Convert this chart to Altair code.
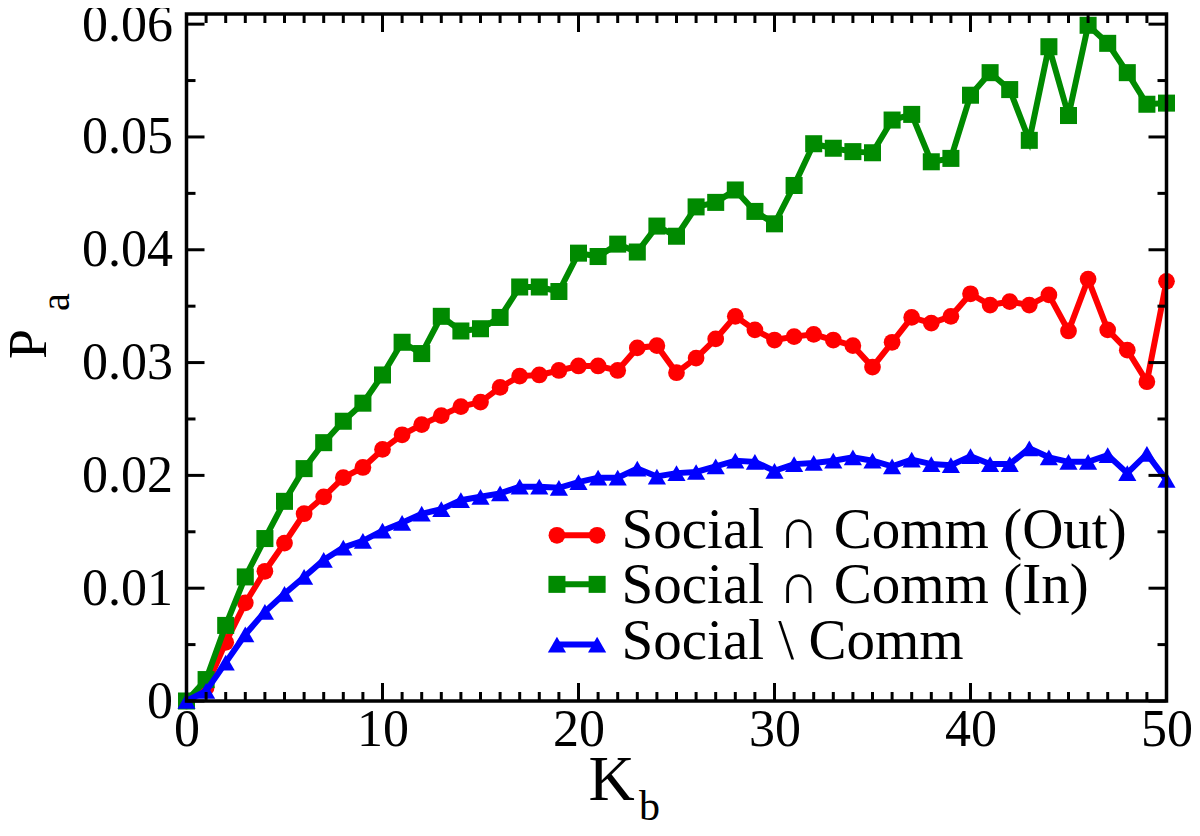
import altair as alt
import pandas as pd

K = list(range(51))

OUT_VALS = [0.0, 0.0012, 0.0052, 0.0087, 0.0115, 0.0140, 0.0166, 0.0181, 0.0198, 0.0207,
            0.0223, 0.0236, 0.0245, 0.0253, 0.0261, 0.0265, 0.0278, 0.0288, 0.0289, 0.0293,
            0.0297, 0.0297, 0.0293, 0.0313, 0.0315, 0.0291, 0.0304, 0.0321, 0.0341, 0.0329,
            0.0320, 0.0323, 0.0325, 0.0320, 0.0315, 0.0296, 0.0318, 0.0340, 0.0335, 0.0341,
            0.0361, 0.0351, 0.0354, 0.0351, 0.0360, 0.0328, 0.0374, 0.0329, 0.0311, 0.0283,
            0.0372]

IN_VALS = [0.0, 0.0019, 0.0067, 0.0110, 0.0144, 0.0177, 0.0206, 0.0229, 0.0248, 0.0264,
           0.0289, 0.0318, 0.0308, 0.0341, 0.0328, 0.0330, 0.0340, 0.0367, 0.0367, 0.0363,
           0.0397, 0.0394, 0.0405, 0.0398, 0.0421, 0.0412, 0.0438, 0.0442, 0.0453, 0.0434,
           0.0423, 0.0457, 0.0494, 0.0490, 0.0487, 0.0486, 0.0515, 0.0520, 0.0478, 0.0481,
           0.0537, 0.0557, 0.0542, 0.0497, 0.0580, 0.0519, 0.0599, 0.0583, 0.0557, 0.0529,
           0.0530]

DIFF_VALS = [0.0, 0.0009, 0.0034, 0.0059, 0.0079, 0.0095, 0.0110, 0.0125, 0.0136, 0.0142,
             0.0151, 0.0158, 0.0166, 0.0170, 0.0178, 0.0181, 0.0184, 0.0190, 0.0190, 0.0189,
             0.0194, 0.0198, 0.0198, 0.0206, 0.0199, 0.0202, 0.0203, 0.0208, 0.0213, 0.0212,
             0.0204, 0.0210, 0.0211, 0.0213, 0.0216, 0.0213, 0.0208, 0.0214, 0.0210, 0.0209,
             0.0217, 0.0210, 0.0210, 0.0224, 0.0216, 0.0212, 0.0212, 0.0218, 0.0202, 0.0219,
             0.0196]

SERIES = ["Social \u2229 Comm (Out)", "Social \u2229 Comm (In)", "Social \\ Comm"]
COLORS = ["#ff0000", "#008a00", "#0000ff"]
SHAPES = ["circle", "square", "triangle-up"]
SIZES = [280, 290, 330]

X_TICKS = [0, 10, 20, 30, 40, 50]
Y_TICKS = [0.0, 0.01, 0.02, 0.03, 0.04, 0.05, 0.06]

W, H = 980, 687
FONT = "'Liberation Serif', 'Times New Roman', 'DejaVu Serif', serif"
LW = 6

xs = alt.Scale(domain=[0, 50], nice=False, zero=False)
ys = alt.Scale(domain=[0, 0.0609], nice=False, zero=False)

xaxis = alt.Axis(values=X_TICKS, format="d", labelFont=FONT, labelFontSize=52,
                 labelColor="black", ticks=False, domain=False, grid=False,
                 labelFlush=False, labelPadding=3, title=None)
yaxis = alt.Axis(values=Y_TICKS, labelFont=FONT, labelFontSize=52, labelColor="black",
                 labelExpr="datum.value == 0 ? '0' : format(datum.value, '.2f')",
                 ticks=False, domain=False, grid=False, labelFlush=False,
                 labelPadding=14, title=None)

layers = []

# data series
for name, vals, col, shp, sz in zip(SERIES, [OUT_VALS, IN_VALS, DIFF_VALS], COLORS, SHAPES, SIZES):
    df = pd.DataFrame({"k": K, "v": vals})
    base = alt.Chart(df)
    layers.append(base.mark_line(color=col, strokeWidth=LW, clip=False).encode(
        x=alt.X("k:Q", scale=xs, axis=xaxis),
        y=alt.Y("v:Q", scale=ys, axis=yaxis)))
    layers.append(base.mark_point(shape=shp, size=sz, filled=True, opacity=1,
                                  color=col, clip=False).encode(
        x=alt.X("k:Q", scale=xs), y=alt.Y("v:Q", scale=ys)))

# frame
layers.append(alt.Chart(pd.DataFrame({"f": [0]})).mark_rect(
    fill=None, fillOpacity=0, stroke="black", strokeWidth=3.5).encode(
    x=alt.value(0), x2=alt.value(W), y=alt.value(0), y2=alt.value(H)))

# inward ticks
x_major = pd.DataFrame({"k": X_TICKS})
x_minor = pd.DataFrame({"k": [i for i in K if i % 10 != 0]})
y_major = pd.DataFrame({"v": Y_TICKS})
y_minor = pd.DataFrame({"v": [0.005, 0.015, 0.025, 0.035, 0.045, 0.055]})

for df, ln in [(x_major, 18), (x_minor, 9)]:
    c = alt.Chart(df)
    layers.append(c.mark_rule(color="black", strokeWidth=3).encode(
        x=alt.X("k:Q", scale=xs), y=alt.value(H), y2=alt.value(H - ln)))
    layers.append(c.mark_rule(color="black", strokeWidth=3).encode(
        x=alt.X("k:Q", scale=xs), y=alt.value(0), y2=alt.value(ln)))
for df, ln in [(y_major, 18), (y_minor, 9)]:
    c = alt.Chart(df)
    layers.append(c.mark_rule(color="black", strokeWidth=3).encode(
        y=alt.Y("v:Q", scale=ys), x=alt.value(0), x2=alt.value(ln)))
    layers.append(c.mark_rule(color="black", strokeWidth=3).encode(
        y=alt.Y("v:Q", scale=ys), x=alt.value(W), x2=alt.value(W - ln)))

# legend (in data coordinates inside the plot)
leg_sym_y = [0.01469, 0.01034, 0.00500]
leg_txt_y = [0.01353, 0.00865, 0.00368]
for name, col, shp, sz, sy, ty in zip(SERIES, COLORS, SHAPES, SIZES, leg_sym_y, leg_txt_y):
    ld = pd.DataFrame({"k": [18.9, 20.95], "v": [sy, sy]})
    lc = alt.Chart(ld)
    layers.append(lc.mark_line(color=col, strokeWidth=LW).encode(
        x=alt.X("k:Q", scale=xs), y=alt.Y("v:Q", scale=ys)))
    layers.append(lc.mark_point(shape=shp, size=sz, filled=True, opacity=1, color=col).encode(
        x=alt.X("k:Q", scale=xs), y=alt.Y("v:Q", scale=ys)))
    td = pd.DataFrame({"k": [22.2], "v": [ty], "t": [name]})
    layers.append(alt.Chart(td).mark_text(font=FONT, fontSize=57, align="left",
                                          baseline="alphabetic", color="black").encode(
        x=alt.X("k:Q", scale=xs), y=alt.Y("v:Q", scale=ys), text="t:N"))

# axis titles with subscripts
def txt(s, x, y, size, angle=0):
    return alt.Chart(pd.DataFrame({"t": [s]})).mark_text(
        font=FONT, fontSize=size, align="center", baseline="alphabetic",
        angle=angle, color="black").encode(x=alt.value(x), y=alt.value(y), text="t:N")

layers.append(txt("P", -141, 330, 54, 270))
layers.append(txt("a", -118, 288, 40, 270))
layers.append(txt("K", 425, 786, 64))
layers.append(txt("b", 463, 806, 42))

chart = alt.layer(*layers).properties(
    width=W, height=H,
    padding={"left": 178.5, "top": 6, "right": 25, "bottom": 127},
    autosize=alt.AutoSizeParams(type="none"),
).configure_view(stroke=None).configure(background="white", font=FONT)

chart.save("out.html", embed_options={"renderer": "svg", "actions": False})
